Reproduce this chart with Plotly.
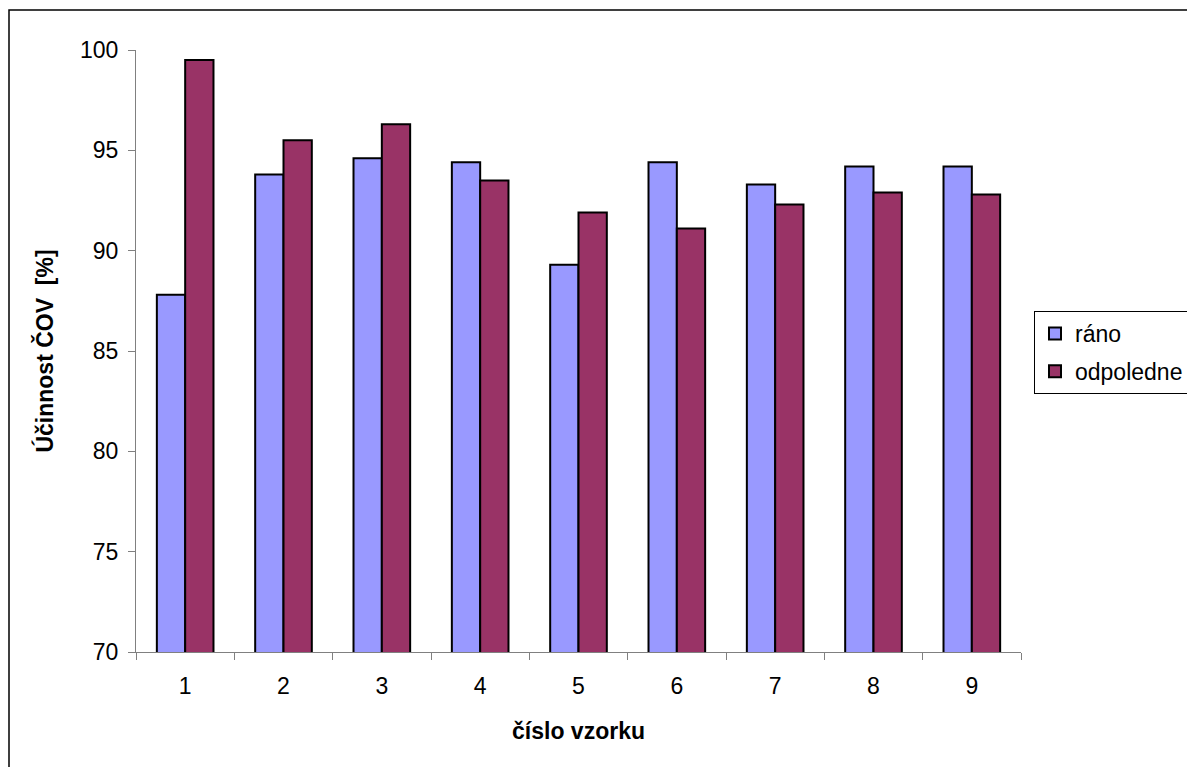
import plotly.graph_objects as go

# Sample numbers and the two measurement series (efficiency of the treatment plant, %)
vzorky = ["1", "2", "3", "4", "5", "6", "7", "8", "9"]
rano = [87.8, 93.8, 94.6, 94.4, 89.3, 94.4, 93.3, 94.2, 94.2]
odpoledne = [99.5, 95.5, 96.3, 93.5, 91.9, 91.1, 92.3, 92.9, 92.8]

FONT = "Arial, Liberation Sans, sans-serif"

fig = go.Figure()
fig.add_trace(go.Bar(
    x=vzorky, y=rano, name="ráno", legendgroup="a",
    marker=dict(color="#9999FF", line=dict(color="#000000", width=2)),
))
fig.add_trace(go.Bar(
    x=vzorky, y=odpoledne, name="odpoledne", legendgroup="b",
    marker=dict(color="#993366", line=dict(color="#000000", width=2)),
))

W, H = 1187, 767
L, R, T, B = 136, 166, 50, 115
pw = W - L - R
ph = H - T - B

fig.update_layout(
    width=W, height=H,
    margin=dict(l=L, r=R, t=T, b=B, autoexpand=False),
    paper_bgcolor="white", plot_bgcolor="white",
    font=dict(family=FONT, size=23, color="#000000"),
    barmode="group", bargap=0.424, bargroupgap=0,
    showlegend=True,
    legend=dict(
        x=(1034 - L) / pw, xanchor="left",
        y=(H - B - 311) / ph, yanchor="top",
        bgcolor="white", bordercolor="#000000", borderwidth=1,
        font=dict(family=FONT, size=23),
        traceorder="grouped", tracegroupgap=5,
    ),
    xaxis=dict(
        type="category", tickson="boundaries",
        ticks="outside", ticklen=7, tickcolor="#808080", tickwidth=1,
        showline=True, linecolor="#808080", linewidth=1,
        showgrid=False, zeroline=False,
        tickfont=dict(family=FONT, size=23),
        ticklabelstandoff=13,
        title=dict(text="<b>číslo vzorku</b>", font=dict(family=FONT, size=23), standoff=25),
    ),
    yaxis=dict(
        range=[70, 100], dtick=5, tick0=70,
        ticks="outside", ticklen=7, tickcolor="#808080", tickwidth=1,
        showline=True, linecolor="#808080", linewidth=1,
        showgrid=False, zeroline=False,
        tickfont=dict(family=FONT, size=23),
        ticklabelstandoff=5,
        title=dict(text="<b>Účinnost ČOV  [%]</b>", font=dict(family=FONT, size=23), standoff=19),
    ),
)

# Outer chart frame
fig.add_shape(
    type="rect", xref="paper", yref="paper",
    x0=(9 - L) / pw, x1=(W + 20 - L) / pw,
    y0=(H - B - 10) / ph, y1=-(B + 20) / ph,
    line=dict(color="#000000", width=1.5), fillcolor="rgba(0,0,0,0)", layer="above",
)

fig.write_html("out.html")
